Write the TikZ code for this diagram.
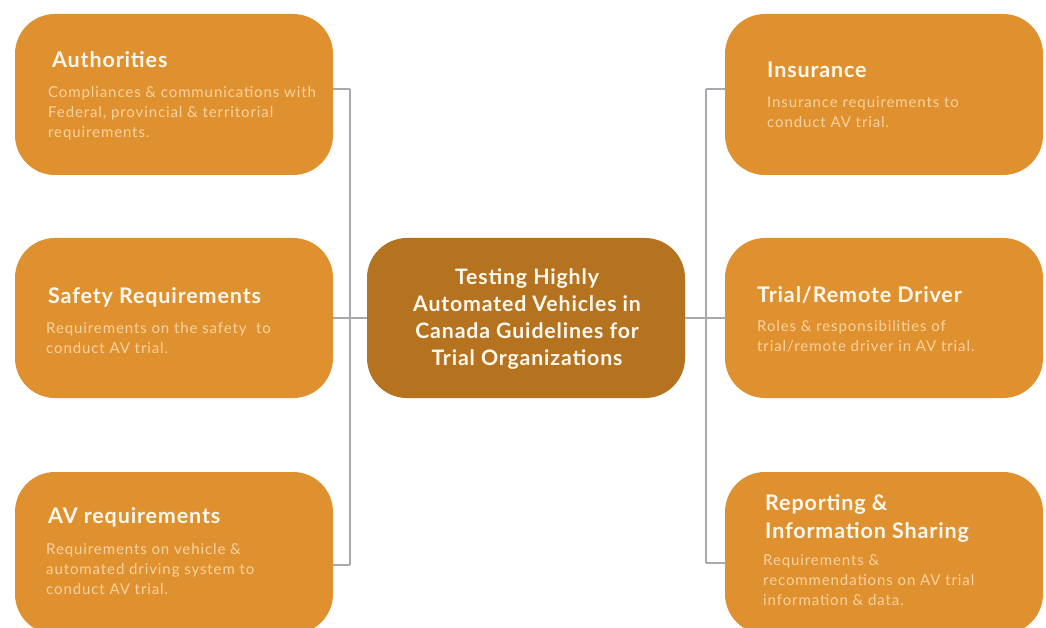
\documentclass[tikz,border=0pt]{standalone}
\usepackage{fontspec}
\setmainfont{Lato}
\definecolor{boxor}{HTML}{E0912F}
\definecolor{boxdark}{HTML}{B5731F}
\definecolor{titlec}{HTML}{FFF8EE}
\definecolor{bodyc}{HTML}{F7D2A0}
\definecolor{linec}{HTML}{A9A9AD}
\tikzset{
  card/.style={fill=boxor, draw=none, rounded corners=40pt, inner sep=0pt},
  hub/.style={fill=boxdark, draw=none, rounded corners=40pt, inner sep=0pt},
  ttl/.style={anchor=west, inner sep=0pt, text=titlec, font=\bfseries\fontsize{21.5}{28}\selectfont\addfontfeature{LetterSpace=4}, align=left},
  bdy/.style={anchor=north west, inner sep=0pt, text=bodyc, font=\fontsize{15}{20}\selectfont\addfontfeature{LetterSpace=6}, align=left},
  conn/.style={draw=linec, line width=1.6pt}
}
\begin{document}
\begin{tikzpicture}[x=1pt,y=-1pt]
\useasboundingbox[fill=white] (0,0) rectangle (1046,628);
% boxes
\path[card] (15,14) rectangle (333,175);
\node[minimum width=318pt, minimum height=161pt, inner sep=0pt] (auth) at (174,94.5) {};
\path[card] (15,238) rectangle (333,398);
\node[minimum width=318pt, minimum height=160pt, inner sep=0pt] (safe) at (174,318) {};
\path[card] (15,472) rectangle (333,634);
\node[minimum width=318pt, minimum height=162pt, inner sep=0pt] (avreq) at (174,553) {};
\path[card] (725,14) rectangle (1043,175);
\node[minimum width=318pt, minimum height=161pt, inner sep=0pt] (ins) at (884,94.5) {};
\path[card] (725,238) rectangle (1043,398);
\node[minimum width=318pt, minimum height=160pt, inner sep=0pt] (trial) at (884,318) {};
\path[card] (725,472) rectangle (1043,634);
\node[minimum width=318pt, minimum height=162pt, inner sep=0pt] (rep) at (884,553) {};
\path[hub] (367,238) rectangle (685,398);
\node[minimum width=318pt, minimum height=160pt, inner sep=0pt] (hubn) at (526,318) {};
% connectors
\coordinate (ltop) at (350,89);
\coordinate (lbot) at (350,565);
\coordinate (rtop) at (706,89);
\coordinate (rbot) at (706,563);
\draw[conn] (ltop) -- (lbot);
\draw[conn] (auth.east |- ltop) -- (ltop);
\draw[conn] (avreq.east |- lbot) -- (lbot);
\draw[conn] (safe.east) -- (hubn.west);
\draw[conn] (rtop) -- (rbot);
\draw[conn] (rtop) -- (ins.west |- rtop);
\draw[conn] (rbot) -- (rep.west |- rbot);
\draw[conn] (hubn.east) -- (trial.west);
% hub text
\node[inner sep=0pt, text=titlec, font=\bfseries\fontsize{21.3}{27}\selectfont\addfontfeature{LetterSpace=4}, align=center] (hubt) at (527,319) {Testing Highly\\Automated Vehicles in\\Canada Guidelines for\\Trial Organizations};
% left texts
\node[ttl] (t1) at (52,60) {Authorities};
\node[bdy] (b1) at (48,86) {Compliances \& communications with\\Federal, provincial \& territorial\\requirements.};
\node[ttl] (t2) at (48,297) {Safety Requirements};
\node[bdy] (b2) at (46,322) {Requirements on the safety\ \ to\\conduct AV trial.};
\node[ttl] (t3) at (48,517) {AV requirements};
\node[bdy] (b3) at (46,543) {Requirements on vehicle \&\\automated driving system to\\conduct AV trial.};
% right texts
\node[ttl] (t4) at (767,70) {Insurance};
\node[bdy] (b4) at (767,96) {Insurance requirements to\\conduct AV trial.};
\node[ttl] (t5) at (757,295) {Trial/Remote Driver};
\node[bdy] (b5) at (757,320) {Roles \& responsibilities of\\trial/remote driver in AV trial.};
\node[ttl] (t6) at (765,518) {Reporting \&\\Information Sharing};
\node[bdy] (b6) at (763,554) {Requirements \&\\recommendations on AV trial\\information \& data.};
\end{tikzpicture}
\end{document}
